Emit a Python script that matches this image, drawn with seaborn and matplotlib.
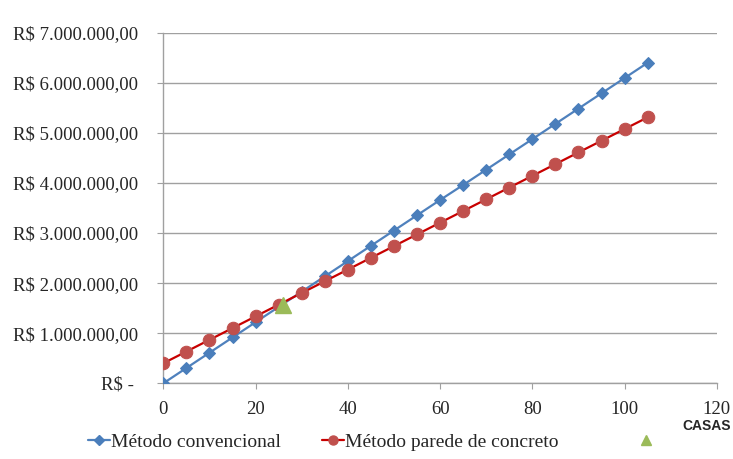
import numpy as np
import pandas as pd
import matplotlib
matplotlib.use("Agg")
import matplotlib.pyplot as plt
import seaborn as sns
from matplotlib.ticker import FuncFormatter
from matplotlib.lines import Line2D

# número de casas
casas = [0, 5, 10, 15, 20, 25, 30, 35, 40, 45, 50, 55, 60, 65, 70, 75, 80, 85, 90, 95, 100, 105]

# custo acumulado (R$)
convencional = [0, 305000, 610000, 915000, 1220000, 1525000, 1830000, 2135000, 2440000, 2745000,
                3050000, 3355000, 3660000, 3960000, 4265000, 4570000, 4875000, 5180000, 5485000,
                5790000, 6095000, 6400000]
parede_concreto = [400000, 634000, 868000, 1102000, 1336000, 1570000, 1803000, 2037000, 2271000,
                   2505000, 2739000, 2973000, 3207000, 3440000, 3674000, 3908000, 4142000, 4376000,
                   4610000, 4843000, 5077000, 5310000]

# ponto de equilíbrio
equilibrio_x = [26.0]
equilibrio_y = [1570000]

df = pd.DataFrame({"casas": casas, "convencional": convencional, "parede": parede_concreto})

sns.set_style("white")
plt.rcParams["font.family"] = ["Liberation Serif", "DejaVu Serif"]

fig = plt.figure(figsize=(7.33, 4.59), dpi=100)
ax = fig.add_axes([0.2228, 0.1649, 0.978 - 0.2228, 0.9288 - 0.1649])

azul = "#4F81BD"
vermelho = "#C0504D"
verde = "#9BBB59"

sns.lineplot(data=df, x="casas", y="convencional", ax=ax, color=azul, linewidth=1.6,
             marker="D", markersize=6.5, markerfacecolor="#4A7EBB", markeredgecolor="#4A7EBB",
             zorder=3)
sns.lineplot(data=df, x="casas", y="parede", ax=ax, color="#C80000", linewidth=1.6,
             marker="o", markersize=9, markerfacecolor=vermelho, markeredgecolor=vermelho,
             zorder=4)
ax.plot(equilibrio_x, equilibrio_y, linestyle="none", marker="^", markersize=12,
        color=verde, zorder=5)

ax.set_xlim(0, 120)
ax.set_ylim(0, 7000000)
ax.set_xticks(range(0, 121, 20))
ax.set_yticks(range(0, 7000001, 1000000))


def reais(v, pos):
    if v == 0:
        return "R$ - "
    s = f"{v:,.2f}".replace(",", "X").replace(".", ",").replace("X", ".")
    return "R$ " + s


ax.yaxis.set_major_formatter(FuncFormatter(reais))
ax.grid(axis="y", color="#A0A0A0", linewidth=1)
ax.grid(axis="x", visible=False)
for lado in ["top", "right"]:
    ax.spines[lado].set_visible(False)
for lado in ["left", "bottom"]:
    ax.spines[lado].set_color("#A0A0A0")
    ax.spines[lado].set_linewidth(1)
ax.tick_params(axis="both", which="major", length=4, color="#A0A0A0", labelsize=13.5,
               direction="out", left=True, bottom=True)
ax.tick_params(axis="y", pad=14)
ax.tick_params(axis="x", pad=9)
ax.set_xlabel("")
ax.set_ylabel("")

fig.text(0.997, 0.072, "CASAS", ha="right", va="center", fontsize=10, fontweight="bold",
         family=["Liberation Sans", "DejaVu Sans"])

handles = [
    Line2D([], [], color=azul, linewidth=1.6, marker="D", markersize=5.5,
           markerfacecolor="#4A7EBB", markeredgecolor="#4A7EBB"),
    Line2D([], [], color="#C80000", linewidth=1.6, marker="o", markersize=6.5,
           markerfacecolor=vermelho, markeredgecolor=vermelho),
]
labels = ["Método convencional", "Método parede de concreto"]
fig.legend(handles, labels, loc="center left", bbox_to_anchor=(0.12, 0.037), ncol=2,
           frameon=False, fontsize=14, handlelength=1.15, handletextpad=0.05,
           columnspacing=2.1, borderpad=0, borderaxespad=0)

# terceiro item da legenda (ponto de equilíbrio, sem texto)
tri = [Line2D([], [], linestyle="none", marker="^", markersize=7.5, color=verde)]
fig.legend(tri, [" "], loc="center left", bbox_to_anchor=(0.866, 0.037), ncol=1,
           frameon=False, fontsize=14, handlelength=1.15, handletextpad=0.05,
           borderpad=0, borderaxespad=0)

fig.savefig("out.png", dpi=100)
